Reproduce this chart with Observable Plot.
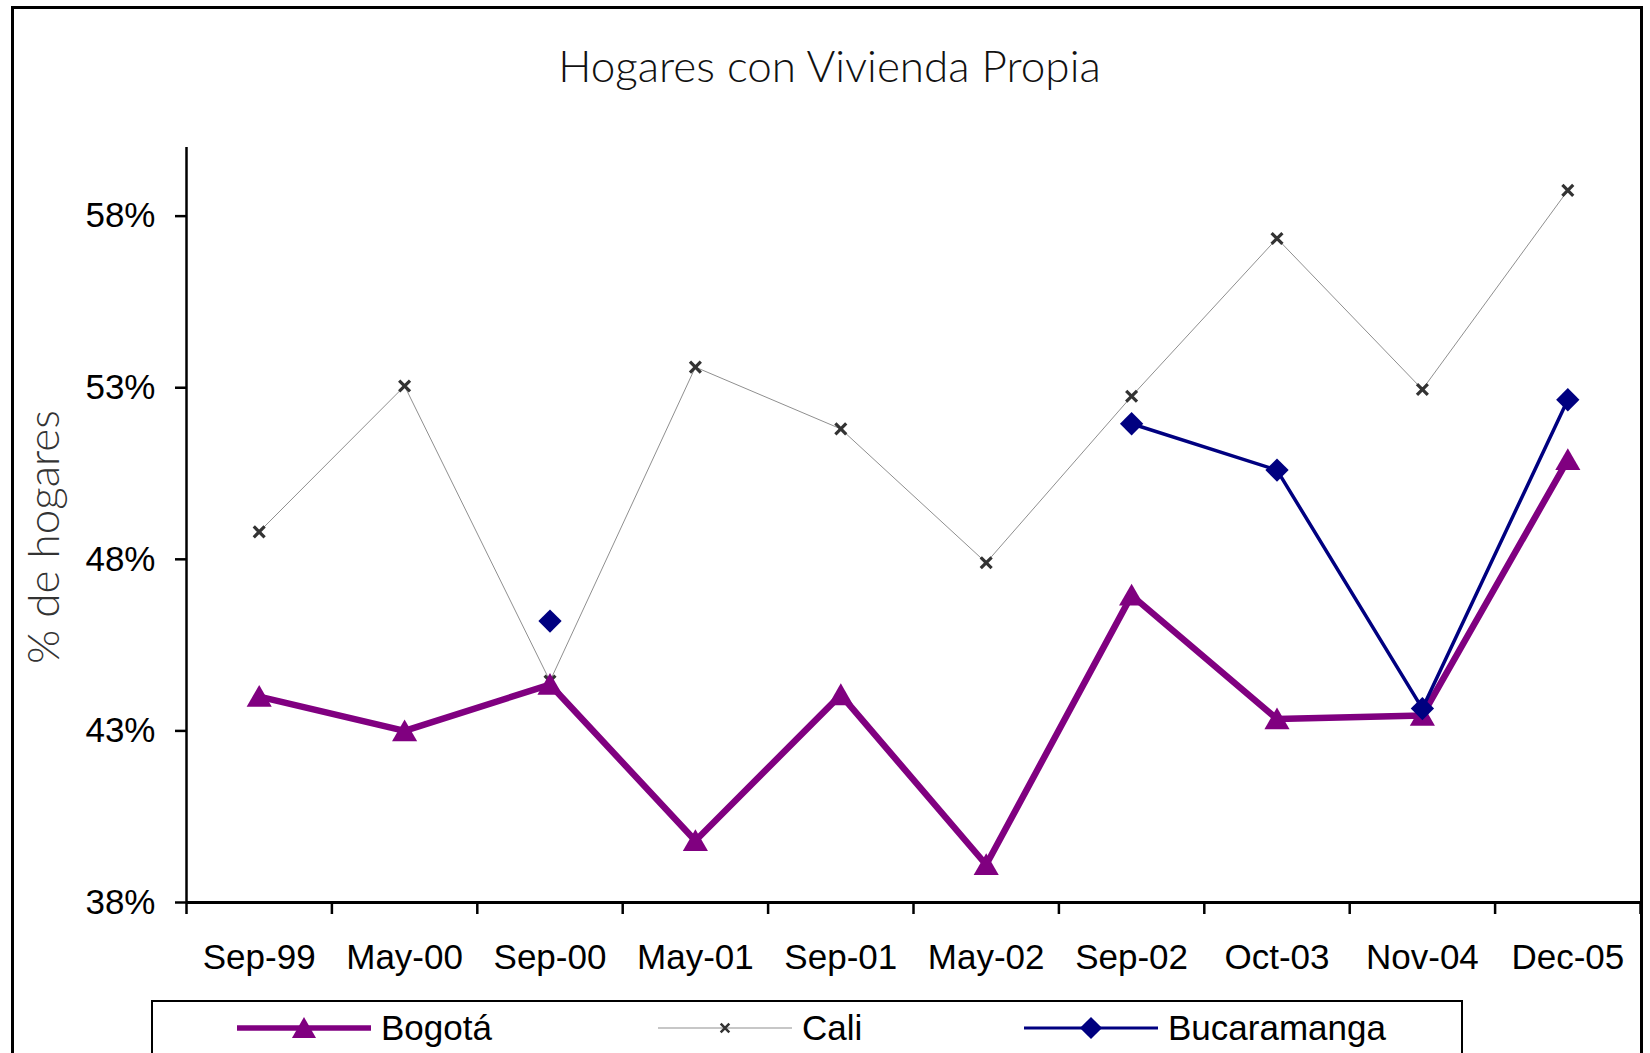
<!DOCTYPE html>
<html>
<head>
<meta charset="utf-8">
<script src="https://cdn.jsdelivr.net/npm/d3@7"></script>
<script src="https://cdn.jsdelivr.net/npm/@observablehq/plot@0.6"></script>
<style>
  html, body { margin: 0; padding: 0; background: #fff; overflow: hidden; }
  #wrap { position: relative; width: 1650px; height: 1053px; overflow: hidden; background: #fff; }
  #border { position: absolute; left: 11px; top: 6px; width: 1632px; height: 1100px; border: 3px solid #000; box-sizing: border-box; }
  #title { position: absolute; left: 12px; width: 1635px; top: 40px; text-align: center;
           font-family: Lato, "Open Sans", sans-serif; font-weight: 300; font-size: 44px; color: #111; line-height: 50px; }
  #chart { position: absolute; left: 0; top: 120px; }
  #legend { position: absolute; left: 151px; top: 1000px; width: 1312px; height: 90px; border: 2.5px solid #000; box-sizing: border-box; }
  .item { position: absolute; top: -4px; height: 60px; display: flex; align-items: center; }
  .item span { font-family: "Liberation Sans", Arial, sans-serif; font-size: 35px; color: #000; margin-left: 10px; }
</style>
</head>
<body>
<div id="wrap">
  <div id="border"></div>
  <div id="title">Hogares con Vivienda Propia</div>
  <div id="chart"></div>
  <div id="legend"></div>
</div>
<script>
const categories = ["Sep-99","May-00","Sep-00","May-01","Sep-01","May-02","Sep-02","Oct-03","Nov-04","Dec-05"];
const bogota = [44.0, 43.0, 44.35, 39.8, 44.05, 39.1, 46.95, 43.35, 43.45, 50.9];
const cali = [48.8, 53.05, 44.45, 53.6, 51.8, 47.9, 52.75, 57.35, 52.95, 58.75];
const bucaramanga = [null, null, 46.2, null, null, null, 51.95, 50.6, 43.65, 52.65];
const yTicks = [38, 43, 48, 53, 58];
const yLabel = "% de hogares";

const colors = {Bogotá: "#800080", Cali: "#8f8f8f", Bucaramanga: "#000080"};

const rows = (name, vals) => vals.map((v, i) => ({i, cat: categories[i], serie: name, value: v == null ? NaN : v}));
const rB = rows("Bogotá", bogota);
const rC = rows("Cali", cali);
const rU = rows("Bucaramanga", bucaramanga);

const font = "Liberation Sans, Arial, sans-serif";

const chart = Plot.plot({
  width: 1650,
  height: 865,
  marginLeft: 186,
  marginRight: 10,
  marginTop: 27,
  marginBottom: 83,
  style: {fontFamily: font, background: "transparent", overflow: "visible"},
  x: {type: "linear", domain: [-0.5, categories.length - 0.5], axis: null},
  y: {domain: [38, 60], axis: null},
  marks: [
    Plot.axisY(yTicks, {label: null, tickFormat: d => d + "%", tickSize: 11, tickPadding: 20, fontSize: 35, strokeWidth: 2.5, stroke: "#000", fill: "#000"}),
    Plot.axisX(d3.range(categories.length), {label: null, tickFormat: i => categories[i], tickSize: 0, tickPadding: 42, fontSize: 35, fill: "#000"}),
    Plot.axisX(d3.range(categories.length + 1).map(i => i - 0.5), {label: null, tickFormat: () => "", tickSize: 12, strokeWidth: 2.5, stroke: "#000"}),
    Plot.ruleX([-0.5], {stroke: "#000", strokeWidth: 2.5}),
    Plot.ruleY([38], {stroke: "#000", strokeWidth: 3}),
    Plot.text([yLabel], {frameAnchor: "left", rotate: -90, dx: -142, dy: 12, fontSize: 44, fontWeight: 300, fontFamily: "Lato, 'Open Sans', sans-serif", fill: "#333", textAnchor: "middle"}),
    // Cali
    Plot.line(rC, {x: "i", y: "value", stroke: colors.Cali, strokeWidth: 1}),
    Plot.dot(rC, {x: "i", y: "value", symbol: "times", r: 5, stroke: "#333", strokeWidth: 3.2}),
    // Bogotá
    Plot.line(rB, {x: "i", y: "value", stroke: colors["Bogotá"], strokeWidth: 6.5}),
    Plot.dot(rB, {x: "i", y: "value", symbol: "triangle2", r: 12, fill: colors["Bogotá"], dy: 3}),
    // Bucaramanga
    Plot.line(rU, {x: "i", y: "value", stroke: colors.Bucaramanga, strokeWidth: 3.5}),
    Plot.dot(rU, {x: "i", y: "value", symbol: "diamond2", r: 10.5, fill: colors.Bucaramanga})
  ]
});
document.getElementById("chart").appendChild(chart);

// Legend
const legend = document.getElementById("legend");
const items = [
  {name: "Bogotá", left: 84, sw: 5.5, marker: "tri"},
  {name: "Cali", left: 505, sw: 1, marker: "x"},
  {name: "Bucaramanga", left: 871, sw: 3.2, marker: "dia"}
];
for (const it of items) {
  const div = document.createElement("div");
  div.className = "item";
  div.style.left = it.left + "px";
  const ns = "http://www.w3.org/2000/svg";
  const svg = document.createElementNS(ns, "svg");
  svg.setAttribute("width", 134); svg.setAttribute("height", 40);
  const line = document.createElementNS(ns, "line");
  line.setAttribute("x1", 0); line.setAttribute("x2", 134); line.setAttribute("y1", 20); line.setAttribute("y2", 20);
  line.setAttribute("stroke", colors[it.name]); line.setAttribute("stroke-width", it.sw);
  svg.appendChild(line);
  const m = document.createElementNS(ns, "path");
  if (it.marker === "tri") { m.setAttribute("d", d3.symbol(d3.symbolTriangle2, Math.PI * 11.5 * 11.5)()); m.setAttribute("fill", colors[it.name]); m.setAttribute("transform", "translate(67,23)"); }
  if (it.marker === "x") { m.setAttribute("d", d3.symbol(d3.symbolTimes, Math.PI * 16)()); m.setAttribute("fill", "none"); m.setAttribute("stroke", "#333"); m.setAttribute("stroke-width", 2.5); m.setAttribute("transform", "translate(67,20)"); }
  if (it.marker === "dia") { m.setAttribute("d", d3.symbol(d3.symbolDiamond2, Math.PI * 100)()); m.setAttribute("fill", colors[it.name]); m.setAttribute("transform", "translate(67,20)"); }
  svg.appendChild(m);
  div.appendChild(svg);
  const sp = document.createElement("span");
  sp.textContent = it.name;
  div.appendChild(sp);
  legend.appendChild(div);
}
</script>
</body>
</html>
